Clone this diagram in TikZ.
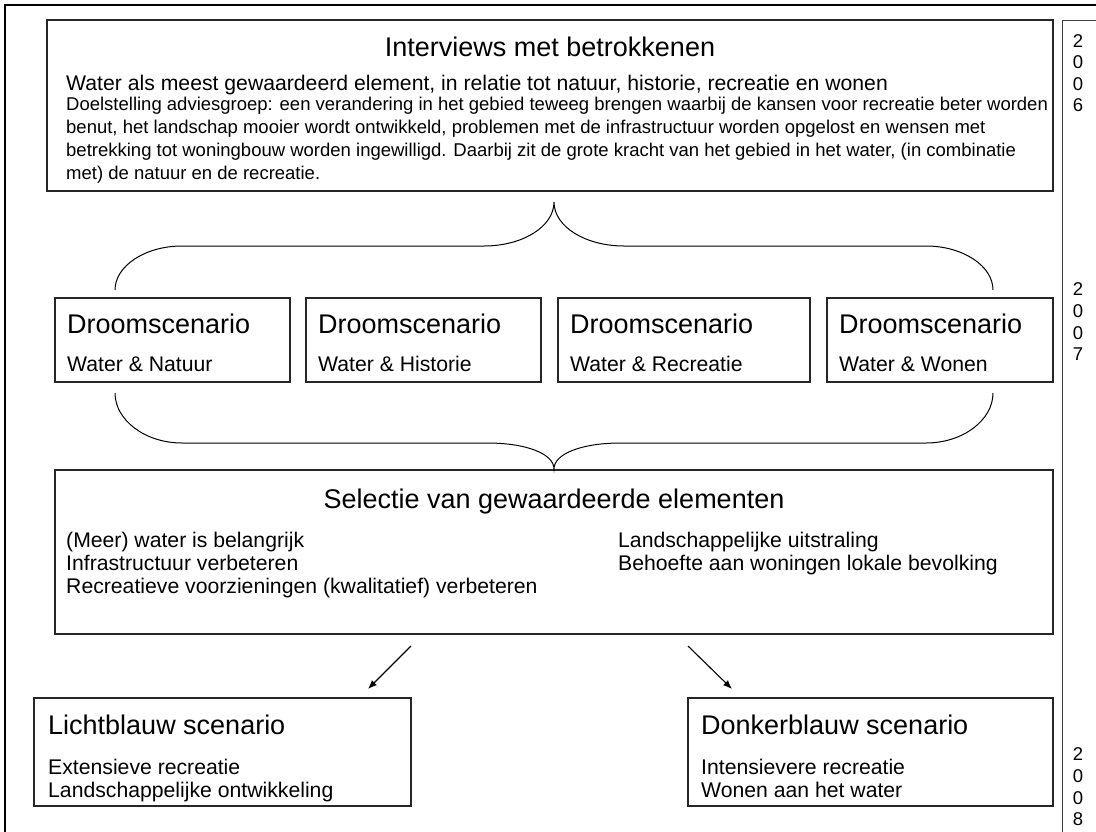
\documentclass[tikz,border=0pt]{standalone}
\usepackage{fontspec}
\setmainfont{Liberation Sans}
\usetikzlibrary{arrows.meta,calc}
\begin{document}
\begin{tikzpicture}[x=1pt,y=-1pt,
  box/.style={draw=black!85, line width=1.2pt, rectangle, inner sep=0pt, outer sep=0pt, anchor=north west},
  ttl/.style={font=\fontsize{27}{32}\selectfont, inner sep=0pt, anchor=base west},
  ttlc/.style={font=\fontsize{27}{32}\selectfont, inner sep=0pt, anchor=base},
  txt/.style={font=\fontsize{21.2}{25}\selectfont, inner sep=0pt, anchor=base west},
  sml/.style={font=\fontsize{18.5}{22}\selectfont, inner sep=0pt, anchor=base west},
  yr/.style={font=\fontsize{18.5}{22}\selectfont, inner sep=0pt, anchor=base},
  brc/.style={draw=black, line width=1pt},
  arr/.style={draw=black, line width=1.1pt, -{Latex[length=9pt,width=7pt]}}]
\fill[white] (0,0) rectangle (1096,831);
\useasboundingbox (0,0) rectangle (1096,831);
% outer frame
\draw[line width=2.2pt, line cap=rect] (5,831) -- (5,5) -- (1096,5);
% year column
\node[box, draw=black!75, line width=1pt, minimum width=60pt, minimum height=840pt] (yrcol) at (1062,20) {};
\node[yr] (y1a) at (1078,47) {2};
\node[yr] (y1b) at (1078,68.5) {0};
\node[yr] (y1c) at (1078,90) {0};
\node[yr] (y1d) at (1078,111.5) {6};
\node[yr] (y2a) at (1078,295) {2};
\node[yr] (y2b) at (1078,317) {0};
\node[yr] (y2c) at (1078,339) {0};
\node[yr] (y2d) at (1078,360) {7};
\node[yr] (y3a) at (1078,760) {2};
\node[yr] (y3b) at (1078,782) {0};
\node[yr] (y3c) at (1078,804) {0};
\node[yr] (y3d) at (1078,825) {8};
% top box
\node[box, minimum width=1006pt, minimum height=171pt] (top) at (47,20) {};
\node[ttlc] (toptitle) at (550,56) {Interviews met betrokkenen};
\node[txt] (topl1) at (66,90) {Water als meest gewaardeerd element, in relatie tot natuur, historie, recreatie en wonen};
\node[sml] (topl2) at (66,110.5) {Doelstelling adviesgroep: een verandering in het gebied teweeg brengen waarbij de kansen voor recreatie beter worden};
\node[sml] (topl3) at (66,133.5) {benut, het landschap mooier wordt ontwikkeld, problemen met de infrastructuur worden opgelost en wensen met};
\node[sml] (topl4) at (66,156.5) {betrekking tot woningbouw worden ingewilligd. Daarbij zit de grote kracht van het gebied in het water, (in combinatie};
\node[sml] (topl5) at (66,179.5) {met) de natuur en de recreatie.};
% dream scenario boxes
\node[box, minimum width=235pt, minimum height=84pt] (d1) at (55,298) {};
\node[box, minimum width=235pt, minimum height=84pt] (d2) at (306,298) {};
\node[box, minimum width=252pt, minimum height=84pt] (d3) at (558,298) {};
\node[box, minimum width=226pt, minimum height=84pt] (d4) at (827,298) {};
\node[ttl] (d1t) at (67,333) {Droomscenario};
\node[txt] (d1s) at (67,371) {Water \& Natuur};
\node[ttl] (d2t) at (318,333) {Droomscenario};
\node[txt] (d2s) at (318,371) {Water \& Historie};
\node[ttl] (d3t) at (570,333) {Droomscenario};
\node[txt] (d3s) at (570,371) {Water \& Recreatie};
\node[ttl] (d4t) at (839,333) {Droomscenario};
\node[txt] (d4s) at (839,371) {Water \& Wonen};
% brace 1
\coordinate (b1t) at ($(top.south)+(4,11)$);
\coordinate (b1l) at ($(d1.north west)+(60,-8)$);
\coordinate (b1r) at ($(d4.north east)+(-60,-8)$);
\draw[brc] (b1l) .. controls (115,266) and (145,246) .. (182,246) -- (484,246)
  .. controls (522,246) and (554,227) .. (b1t)
  .. controls (554,227) and (586,246) .. (624,246) -- (926,246)
  .. controls (963,246) and (993,266) .. (b1r);
% selection box
\node[box, minimum width=998pt, minimum height=164pt] (sel) at (55,470) {};
\node[ttlc] (selt) at (554,508) {Selectie van gewaardeerde elementen};
\node[txt] (sel1) at (66,547.5) {(Meer) water is belangrijk};
\node[txt] (sel2) at (66,570.5) {Infrastructuur verbeteren};
\node[txt] (sel3) at (66,593.5) {Recreatieve voorzieningen (kwalitatief) verbeteren};
\node[txt] (sel4) at (618,547.5) {Landschappelijke uitstraling};
\node[txt] (sel5) at (618,570.5) {Behoefte aan woningen lokale bevolking};
% brace 2
\coordinate (b2l) at ($(d1.south west)+(60,11)$);
\coordinate (b2r) at ($(d4.south east)+(-60,11)$);
\coordinate (b2t) at ($(sel.north)+(0,-1)$);
\draw[brc] (b2l) .. controls (115,420) and (145,443) .. (182,443) -- (487,443)
  .. controls (527,443) and (554,454) .. (b2t)
  .. controls (554,454) and (581,443) .. (621,443) -- (926,443)
  .. controls (963,443) and (993,420) .. (b2r);
% scenario boxes
\node[box, minimum width=377pt, minimum height=108pt] (lb) at (34,698) {};
\node[ttl] (lbt) at (48,734) {Lichtblauw scenario};
\node[txt] (lb1) at (48,774) {Extensieve recreatie};
\node[txt] (lb2) at (48,797) {Landschappelijke ontwikkeling};
\node[box, minimum width=365pt, minimum height=108pt] (db) at (688,698) {};
\node[ttl] (dbt) at (701,734) {Donkerblauw scenario};
\node[txt] (db1) at (701,774) {Intensievere recreatie};
\node[txt] (db2) at (701,797) {Wonen aan het water};
% arrows
\coordinate (a1s) at ($(sel.south west)+(356,12)$);
\coordinate (a1e) at ($(lb.north east)+(-43,-9)$);
\coordinate (a2s) at ($(sel.south west)+(633,12)$);
\coordinate (a2e) at ($(db.north west)+(44,-9)$);
\draw[arr] (a1s) -- (a1e);
\draw[arr] (a2s) -- (a2e);
\end{tikzpicture}
\end{document}
